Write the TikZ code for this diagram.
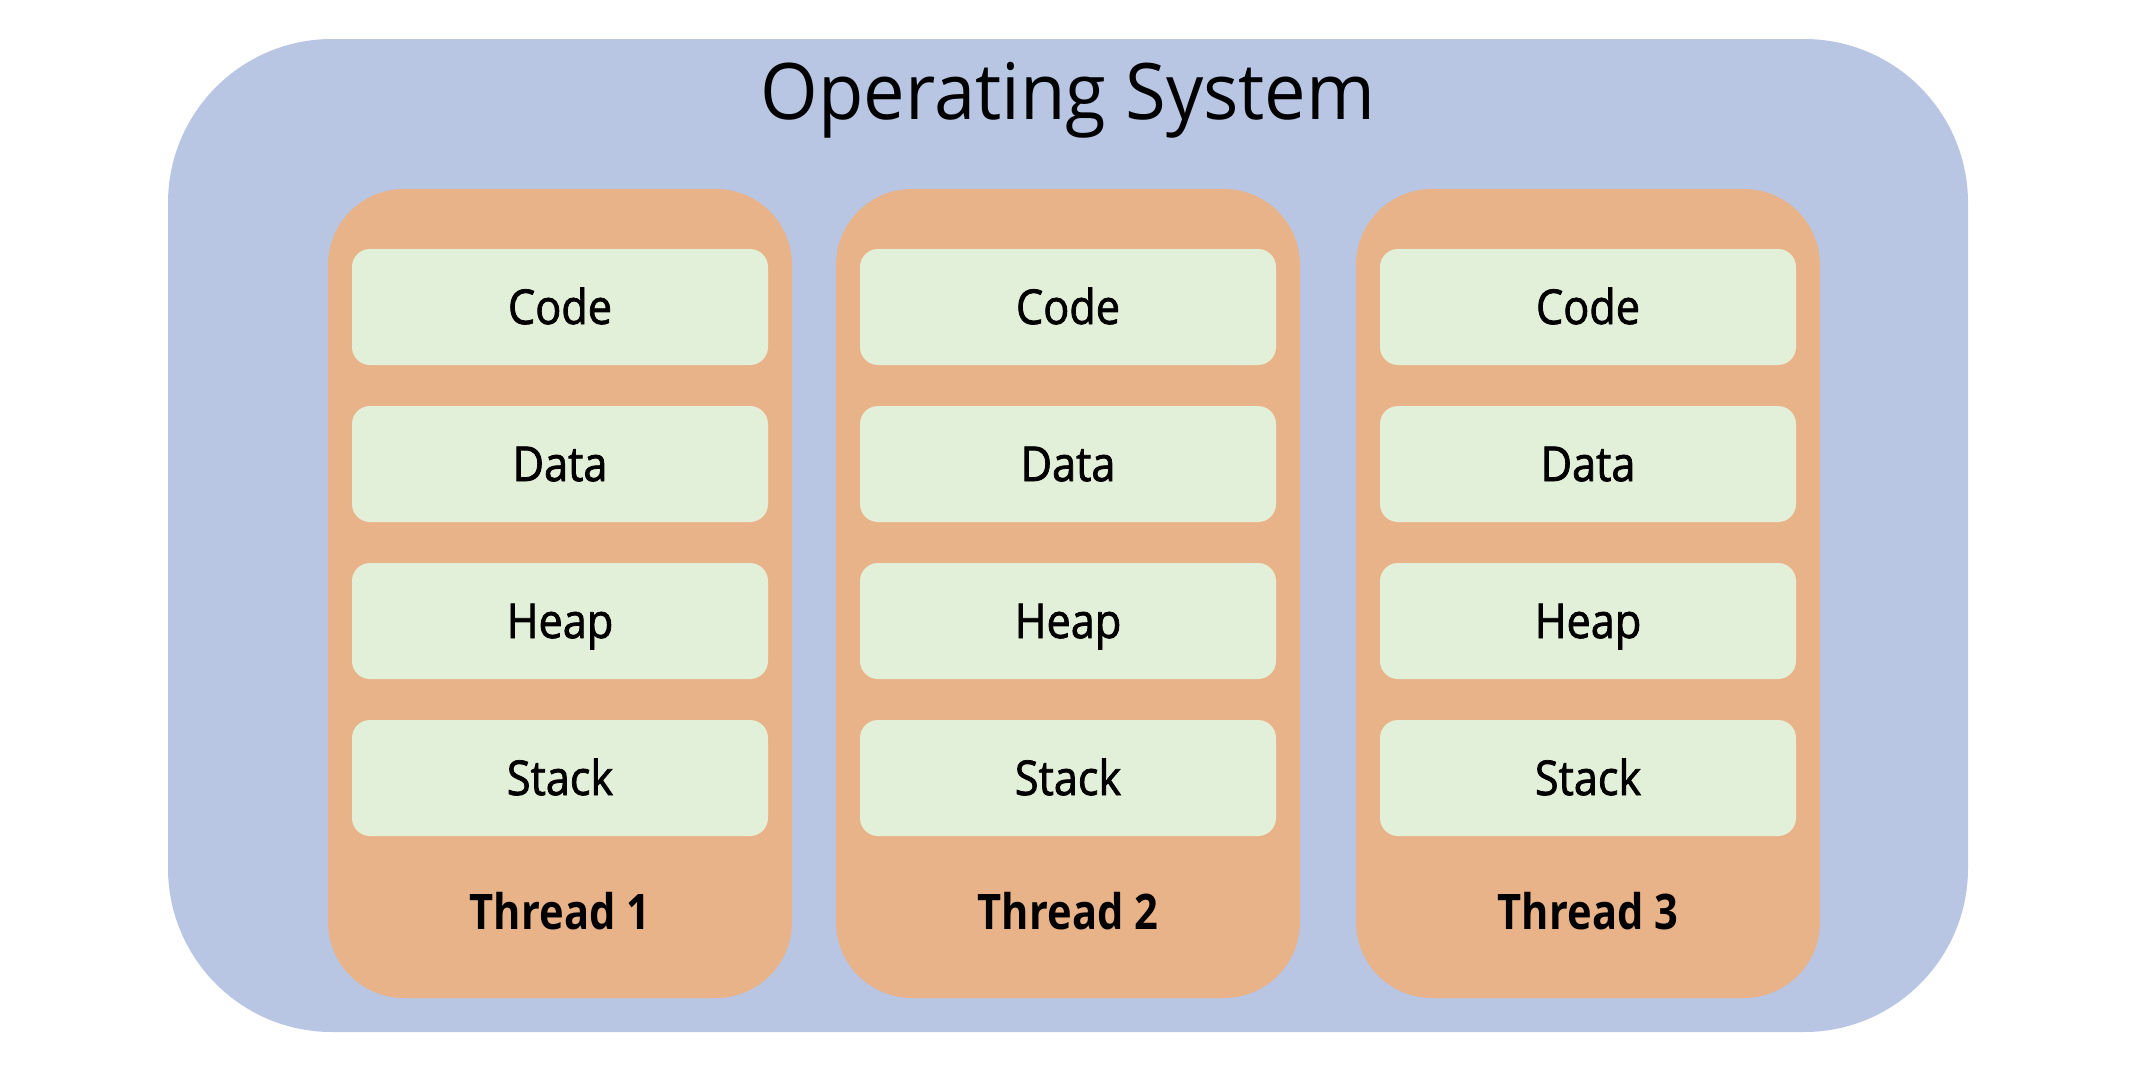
\documentclass[tikz,border=0pt]{standalone}
\usepackage{fontspec}
\setmainfont{Open Sans}
\newfontfamily\titlefont[FakeStretch=0.95]{Open Sans}
\newfontfamily\partfont[FakeStretch=0.9,FakeBold=1.6]{Open Sans}
\newfontfamily\threadfont[FakeStretch=0.85]{Open Sans}
\definecolor{osblue}{RGB}{184,198,228}
\definecolor{thorange}{RGB}{233,179,138}
\definecolor{segreen}{RGB}{227,240,217}
\begin{document}
\begin{tikzpicture}[x=1pt,y=-1pt,
  title/.style={font=\titlefont\fontsize{78}{90}\selectfont, anchor=base, inner sep=0pt},
  seglabel/.style={font=\partfont\fontsize{48}{56}\selectfont, anchor=base, inner sep=0pt},
  thlabel/.style={font=\threadfont\fontsize{49}{56}\selectfont\bfseries, anchor=base, inner sep=0pt}]
\useasboundingbox (0,0) rectangle (2134,1066);
\fill[white] (0,0) rectangle (2134,1066);
\fill[osblue, rounded corners=164pt] (168,39) rectangle (1968,1032);
\node[title] (os) at (1068,119) {Operating System};
\foreach \n/\xl in {1/328, 2/836, 3/1356} {
  \fill[thorange, rounded corners=76pt] (\xl,189) rectangle ({\xl+464},998);
  \node[thlabel] (th\n) at ({\xl+232},929) {Thread \n};
  \foreach \s/\yt in {Code/249, Data/406, Heap/563, Stack/720} {
    \fill[segreen, rounded corners=18pt] ({\xl+24},\yt) rectangle ({\xl+440},{\yt+116});
    \node[seglabel] (\s\n) at ({\xl+232},{\yt+75}) {\s};
  }
}
\end{tikzpicture}
\end{document}
